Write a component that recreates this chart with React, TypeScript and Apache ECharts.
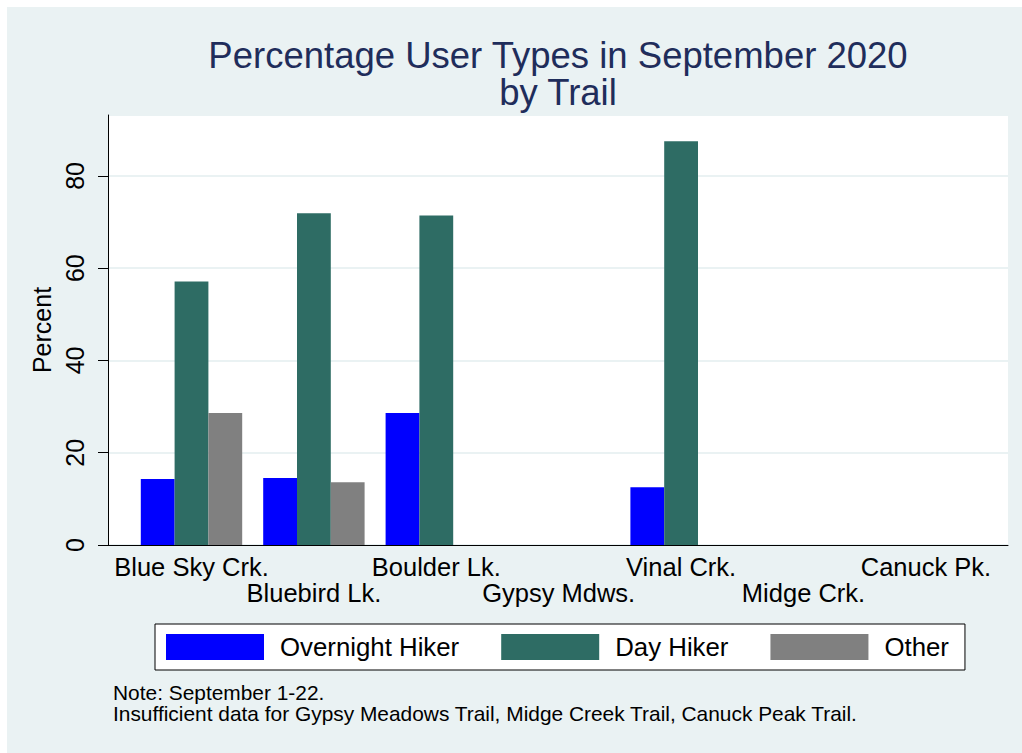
import React, { useEffect, useRef } from "react";
import * as echarts from "echarts";

const categories = [
  "Blue Sky Crk.",
  "Bluebird Lk.",
  "Boulder Lk.",
  "Gypsy Mdws.",
  "Vinal Crk.",
  "Midge Crk.",
  "Canuck Pk.",
];
const overnightHiker = [14.3, 14.5, 28.6, null, 12.5, null, null];
const dayHiker = [57.1, 71.9, 71.4, null, 87.5, null, null];
const other = [28.6, 13.6, null, null, null, null, null];
const seriesNames = ["Overnight Hiker", "Day Hiker", "Other"];
const titleText = "Percentage User Types in September 2020\nby Trail";
const yAxisName = "Percent";
const noteText =
  "Note: September 1-22.\nInsufficient data for Gypsy Meadows Trail, Midge Creek Trail, Canuck Peak Trail.";

const FONT = "'Liberation Sans', Arial, Helvetica, sans-serif";
const BG = "#EAF2F3";
const COLORS = ["#0000FF", "#2E6C64", "#808080"];

export default function App() {
  const ref = useRef<HTMLDivElement>(null);
  useEffect(() => {
    if (!ref.current) return;
    const chart = echarts.init(ref.current, null, { renderer: "svg" });
    const yMax = 93.2;
    const mkSeries = (name: string, data: (number | null)[], i: number) => ({
      name,
      type: "bar",
      xAxisIndex: 1,
      yAxisIndex: 1,
      data,
      barWidth: 33.8,
      barGap: "0%",
      itemStyle: { color: COLORS[i] },
    });
    chart.setOption({
      animation: false,
      backgroundColor: BG,
      textStyle: { fontFamily: FONT },
      title: {
        text: titleText,
        left: 551,
        top: 29.5,
        textAlign: "center",
        padding: 0,
        textStyle: {
          fontFamily: FONT,
          fontSize: 36.5,
          fontWeight: "normal",
          lineHeight: 37,
          color: "#1F2D5B",
        },
      },
      legend: {
        left: 148,
        top: 617,
        orient: "horizontal",
        itemWidth: 98,
        itemHeight: 26,
        itemGap: 42,
        padding: [10, 16, 10, 11],
        backgroundColor: "#ffffff",
        borderColor: "#000000",
        borderWidth: 1,
        borderRadius: 0,
        icon: "rect",
        selectedMode: false,
        data: seriesNames,
        textStyle: {
          fontFamily: FONT,
          fontSize: 25.8,
          color: "#000000",
          lineHeight: 26,
          padding: [0, 0, 0, 11],
        },
      },
      grid: [
        {
          left: 101,
          right: 14,
          top: 108,
          bottom: 208,
          show: true,
          backgroundColor: "#ffffff",
          borderWidth: 0,
        },
        {
          left: 123.3,
          right: 34.9,
          top: 108,
          bottom: 208,
        },
      ],
      xAxis: [
        {
          gridIndex: 0,
          type: "value",
          min: 0,
          max: 1,
          axisLine: { show: true, lineStyle: { color: "#000000", width: 1 } },
          axisTick: { show: false },
          axisLabel: { show: false },
          splitLine: { show: false },
        },
        {
          gridIndex: 1,
          type: "category",
          data: categories,
          axisLine: { show: false },
          axisTick: { show: false },
          axisLabel: {
            interval: 0,
            margin: 9,
            fontFamily: FONT,
            fontSize: 25.5,
            lineHeight: 26,
            color: "#000000",
            formatter: (v: string, i: number) => (i % 2 ? "\n" + v : v),
          },
        },
      ],
      yAxis: [
        {
          gridIndex: 0,
          type: "value",
          min: 0,
          max: yMax,
          interval: 20,
          name: yAxisName,
          nameLocation: "middle",
          nameGap: 49,
          nameRotate: 90,
          nameTextStyle: { fontFamily: FONT, fontSize: 25, color: "#000000" },
          axisLine: { show: true, lineStyle: { color: "#000000", width: 1 } },
          axisTick: {
            show: true,
            length: 10,
            lineStyle: { color: "#000000", width: 1 },
          },
          axisLabel: {
            rotate: 90,
            margin: 21,
            fontFamily: FONT,
            fontSize: 25,
            color: "#000000",
            showMaxLabel: false,
          },
          splitLine: { show: true, lineStyle: { color: BG, width: 2 } },
        },
        {
          gridIndex: 1,
          type: "value",
          min: 0,
          max: yMax,
          show: false,
          splitLine: { show: false },
        },
      ],
      graphic: [
        {
          type: "text",
          left: 106,
          top: 674.5,
          style: {
            text: noteText,
            fontFamily: FONT,
            fontSize: 20.9,
            lineHeight: 21,
            fill: "#000000",
          },
        },
      ],
      series: [
        mkSeries(seriesNames[0], overnightHiker, 0),
        mkSeries(seriesNames[1], dayHiker, 1),
        mkSeries(seriesNames[2], other, 2),
      ],
    });
    return () => chart.dispose();
  }, []);
  return (
    <div
      ref={ref}
      style={{ position: "fixed", left: 7, top: 7, width: 1015, height: 746 }}
    />
  );
}
